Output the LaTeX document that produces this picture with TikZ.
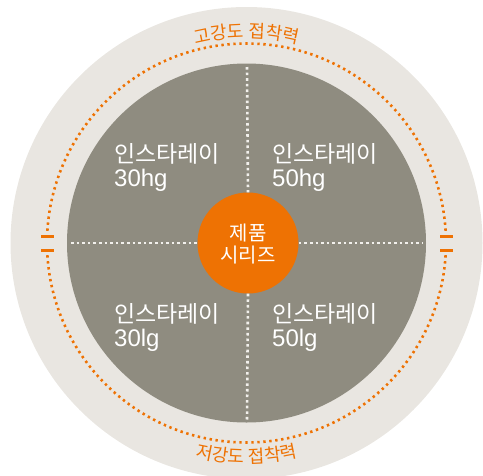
\documentclass[tikz,border=0pt]{standalone}
\usepackage{fontspec}
\newfontfamily\krfont{Noto Sans CJK KR}
\newfontfamily\latfont{Liberation Sans}
\usetikzlibrary{decorations.text,calc}
\definecolor{outerbg}{HTML}{E9E6E1}
\definecolor{graybg}{HTML}{8F8C80}
\definecolor{orng}{HTML}{EE7203}
\definecolor{dotw}{HTML}{F2F0EC}
\newcommand{\latnum}[1]{{\latfont\fontsize{24}{24}\selectfont #1}}
\tikzset{
  orangedots/.style={draw=orng, line width=2.6pt, dash pattern=on 2.4pt off 3.6pt},
  whitedots/.style={draw=dotw, line width=2.6pt, dash pattern=on 2.6pt off 3pt},
  tickmark/.style={draw=orng, line width=3pt},
  quadtext/.style={text=white, font=\krfont\fontsize{23}{23.5}\selectfont, align=left, anchor=base west, inner sep=0pt},
}
\begin{document}
\begin{tikzpicture}[x=1pt,y=1pt]
\useasboundingbox (0,0) rectangle (483,-475);
\clip (0,0) rectangle (483,-475);
\coordinate (c) at (246.5,-243);
% circles
\fill[outerbg] (c) circle (236);
\fill[graybg] (c) circle (179.5);
% orange dotted ring
\draw[orangedots] ($(c)+(3.5:199.5)$) arc (3.5:176.5:199.5);
\draw[orangedots] ($(c)+(183.5:199.5)$) arc (183.5:356.5:199.5);
% tick marks
\coordinate (lt1) at (41,-236); \coordinate (lt2) at (54,-236);
\coordinate (lb1) at (41,-250); \coordinate (lb2) at (54,-250);
\coordinate (rt1) at (440,-236); \coordinate (rt2) at (453,-236);
\coordinate (rb1) at (440,-250); \coordinate (rb2) at (453,-250);
\draw[tickmark] (lt1) -- (lt2);
\draw[tickmark] (lb1) -- (lb2);
\draw[tickmark] (rt1) -- (rt2);
\draw[tickmark] (rb1) -- (rb2);
% white dotted cross
\coordinate (wl) at (71,-243); \coordinate (wr) at (423,-243);
\coordinate (wt) at (247,-67); \coordinate (wb) at (247,-421);
\node[circle, fill=orng, minimum size=101pt, inner sep=0pt] (core) at (248,-243) {};
\draw[whitedots] (wl) -- (core.west);
\draw[whitedots] (core.east) -- (wr);
\draw[whitedots] (wt) -- (core.north);
\draw[whitedots] (core.south) -- (wb);
\node[text=white, font=\krfont\fontsize{20}{22}\selectfont, align=center, inner sep=0pt] (coretext) at (248,-244) {제품\\시리즈};
% quadrant labels
\node[quadtext] (q1) at (114,-186) {인스타레이\\\latnum{30hg}};
\node[quadtext] (q2) at (272,-186) {인스타레이\\\latnum{50hg}};
\node[quadtext] (q3) at (114,-346) {인스타레이\\\latnum{30lg}};
\node[quadtext] (q4) at (272,-346) {인스타레이\\\latnum{50lg}};
% arc labels
\path[decorate, decoration={text along path, text align=center,
  text={|\krfont\fontsize{18}{18}\selectfont\color{orng}|고강도 접착력}}]
  ($(c)+(120:205)$) arc (120:60:205);
\path[decorate, decoration={text along path, text align=center,
  text={|\krfont\fontsize{18}{18}\selectfont\color{orng}|저강도 접착력}}]
  ($(c)+(240:220)$) arc (240:300:220);
\end{tikzpicture}
\end{document}
